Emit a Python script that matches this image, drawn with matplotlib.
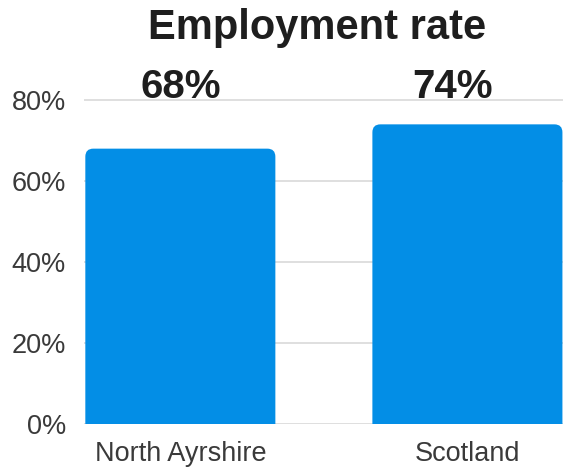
import matplotlib
matplotlib.use("Agg")
from matplotlib import pyplot as plt
from matplotlib.patches import FancyBboxPatch

plt.rcParams['font.family'] = ['Liberation Sans', 'DejaVu Sans']

regions = ["North Ayrshire", "Scotland"]
rates = [68, 74]
y_ticks = [0, 20, 40, 60, 80]
title = "Employment rate"

bar_color = "#038ee6"
grid_color = "#dcdcdc"
bar_width = 0.662
label_shift_pts = [0, -11]   # the 74% label sits a little left of its bar

fig = plt.figure(figsize=(5.63, 4.69), dpi=100)
ax = fig.add_axes([0.149, 0.0959, 0.851, 0.6994])
ax.set_xlim(-0.336, 1.333)
ax.set_ylim(0, 81)

for s in ax.spines.values():
    s.set_visible(False)
ax.set_yticks(y_ticks)
ax.set_yticklabels(["%d%%" % t for t in y_ticks])
ax.set_xticks(range(len(regions)))
ax.set_xticklabels(regions)
ax.tick_params(axis='both', length=0, labelsize=19.5, colors="#3a3a3a")
ax.tick_params(axis='y', pad=13)
ax.tick_params(axis='x', pad=12)
ax.grid(axis='y', color=grid_color, lw=1.3)
ax.set_axisbelow(True)

# rounded top corners: work out data units per pixel so corners stay circular
fig_w, fig_h = fig.get_size_inches() * fig.dpi
bbox = ax.get_position()
x_per_px = (1.333 + 0.336) / (bbox.width * fig_w)
y_per_px = 81 / (bbox.height * fig_h)
aspect = y_per_px / x_per_px
radius = 8 * x_per_px

for i, (name, val) in enumerate(zip(regions, rates)):
    bottom = -20 * y_per_px   # start below axis so the bottom corners are clipped square
    patch = FancyBboxPatch((i - bar_width / 2, bottom), bar_width, val - bottom,
                           boxstyle="round,pad=0,rounding_size=%f" % radius,
                           mutation_aspect=aspect, fc=bar_color, ec="none", zorder=3)
    ax.add_patch(patch)
    ax.annotate("%d%%" % val, (i, 80.4), xytext=(label_shift_pts[i], 0),
                textcoords="offset points", ha='center', va='baseline',
                fontsize=29, fontweight='bold', color="#1e1e1e",
                annotation_clip=False)

fig.text(0.563, 0.917, title, ha='center', va='baseline',
         fontsize=30, fontweight='bold', color="#1e1e1e")

fig.savefig("out.png", dpi=100)
